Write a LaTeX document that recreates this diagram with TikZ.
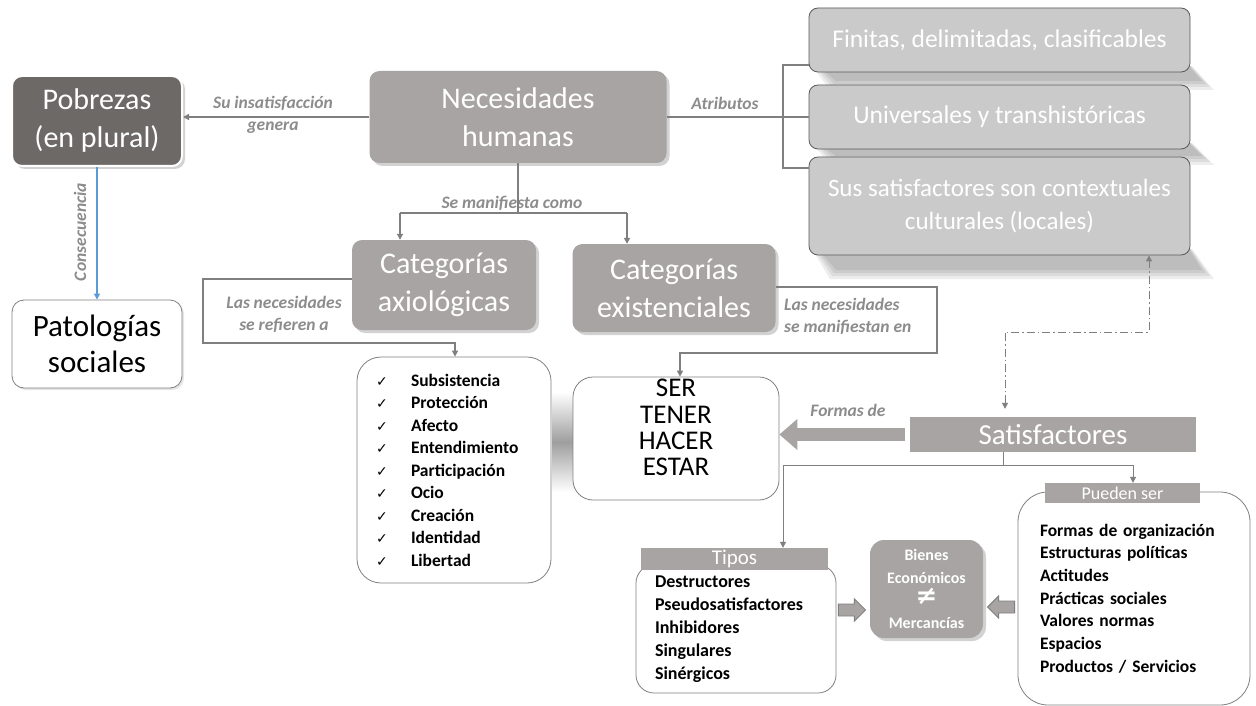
\documentclass[tikz,border=0pt]{standalone}
\usepackage{fontspec}
\setmainfont{Carlito}
\newfontfamily\dejavu{DejaVu Sans}
\usetikzlibrary{arrows.meta,shadows,calc}
\definecolor{ng}{HTML}{A7A4A3}
\definecolor{dg}{HTML}{6D6967}
\definecolor{lg}{HTML}{CBCACA}
\definecolor{lblc}{HTML}{8C8C8C}
\definecolor{ln}{HTML}{7F7F7F}
\definecolor{bd}{HTML}{595959}
\definecolor{bdw}{HTML}{808080}
\definecolor{bl}{HTML}{5B9BD5}
\newcommand\chkmk{\makebox[35pt][l]{{\dejavu\mdseries\fontsize{14}{14}\selectfont ✓}}}
\newcommand\bsp{\spaceskip=0.22em plus 0.1em minus 0.05em\relax}
\begin{document}
\begin{tikzpicture}[x=1pt,y=-1pt,
  gbox/.style={rectangle, rounded corners=10pt, fill=ng, text=white, align=center, inner sep=0pt,
    font=\fontsize{30}{38}\selectfont,
    drop shadow={opacity=0.35,shadow xshift=3pt,shadow yshift=-3pt}},
  abox/.style={rectangle, rounded corners=9pt, fill=lg, draw=bd, line width=0.8pt, text=white,
    align=center, inner sep=0pt, minimum width=381pt},
  wbox/.style={rectangle, rounded corners=20pt, fill=white, draw=bdw, line width=0.8pt, inner sep=0pt},
  tab/.style={rectangle, fill=ng, text=white, inner sep=0pt},
  lbl/.style={text=lblc, font=\fontsize{17.5}{22}\selectfont\bfseries\itshape\bsp, align=center, inner sep=0pt},
  con/.style={draw=ln, line width=1.4pt, -{Triangle[length=6pt,width=6pt]}},
  lin/.style={draw=ln, line width=1.4pt},
  barr/.style={fill=ng, draw=ln, line width=0.9pt, line join=miter},
  shband/.style={fill=black, opacity=0.07},
]
\fill[white] (0,0) rectangle (1256,706);
\useasboundingbox (0,0) rectangle (1256,706);

% soft shadow band between list and SER boxes
\shade[top color=white,bottom color=white,middle color=black!38] (552,392) rectangle (574,492);
% soft perspective shadows under the attribute boxes (layered for a blur effect)
\foreach \b/\h in {72/18, 149/16, 255/24}{
  \fill[shband] (812,\b-6) -- (1192,\b-6) -- (1214,\b+\h) -- (830,\b+\h) -- cycle;
  \fill[shband] (814,\b-6) -- (1191,\b-6) -- (1210,\b+\h-3) -- (832,\b+\h-3) -- cycle;
  \fill[shband] (816,\b-6) -- (1190,\b-6) -- (1206,\b+\h-6) -- (834,\b+\h-6) -- cycle;
  \fill[shband] (818,\b-6) -- (1189,\b-6) -- (1202,\b+\h-9) -- (836,\b+\h-9) -- cycle;
}

% main nodes
\node[gbox, fill=dg, draw=white, line width=2pt, minimum width=170pt, minimum height=90pt] (pob) at (97,121) {Pobrezas\\(en plural)};
\node[wbox, rounded corners=12pt, minimum width=170pt, minimum height=88pt, font=\fontsize{31}{36}\selectfont, align=center,
  drop shadow={opacity=0.2,shadow xshift=2pt,shadow yshift=-2pt}] (pat) at (97,344) {Patologías\\sociales};
\node[gbox, minimum width=297pt, minimum height=92pt] (nec) at (518,117) {Necesidades\\humanas};
\node[gbox, minimum width=184pt, minimum height=90pt] (axi) at (444,285) {Categorías\\axiológicas};
\node[gbox, minimum width=203pt, minimum height=88pt] (exi) at (674,288) {Categorías\\existenciales};

\node[abox, minimum height=64pt, font=\fontsize{25.5}{33}\selectfont] (fin) at (999.5,40) {Finitas, delimitadas, clasificables};
\node[abox, minimum height=64pt, font=\fontsize{25.5}{33}\selectfont] (uni) at (999.5,117) {Universales y transhistóricas};
\node[abox, minimum height=98pt, font=\fontsize{25}{33}\selectfont] (sus) at (999.5,206) {Sus satisfactores son contextuales\\culturales (locales)};

\node[wbox, rounded corners=24pt, minimum width=194pt, minimum height=226pt, text width=156pt, align=left,
  font=\fontsize{17.5}{22.5}\selectfont\bfseries] (lst) at (454,470)
  {\chkmk Subsistencia\\\chkmk Protección\\\chkmk Afecto\\\chkmk Entendimiento\\\chkmk Participación\\\chkmk Ocio\\\chkmk Creación\\\chkmk Identidad\\\chkmk Libertad};

\node[wbox, minimum width=206pt, minimum height=123pt,
  label={[font=\fontsize{27}{26.3}\selectfont, align=center, yshift=11pt, inner sep=0pt]center:SER\\TENER\\HACER\\ESTAR}] (ser) at (676,438.5) {};

\node[rectangle, fill=ng, text=white, minimum width=286pt, minimum height=35pt, inner sep=0pt,
  font=\fontsize{29}{29}\selectfont] (sat) at (1053,434.5) {Satisfactores};

\node[wbox, rounded corners=18pt, minimum width=200pt, minimum height=128pt, text width=162pt, align=left,
  font=\fontsize{18}{23}\selectfont\bfseries] (tip) at (736,629)
  {Destructores\\Pseudosatisfactores\\Inhibidores\\Singulares\\Sinérgicos};
\node[tab, minimum width=187pt, minimum height=22pt, font=\fontsize{21}{21}\selectfont] (tt) at (734.5,559) {Tipos};

\node[wbox, rounded corners=30pt, minimum width=232pt, minimum height=213pt, text width=188pt, align=left,
  font=\fontsize{17.5}{22.7}\selectfont\bfseries\bsp] (pue) at (1134,598.5)
  {Formas de organización\\Estructuras políticas\\Actitudes\\Prácticas sociales\\Valores normas\\Espacios\\Productos / Servicios};
\node[tab, minimum width=155pt, minimum height=20pt, font=\fontsize{18}{18}\selectfont] (pt) at (1122.5,493) {Pueden ser};

\node[gbox, rounded corners=14pt, minimum width=113pt, minimum height=98pt,
  font=\fontsize{16}{22.5}\selectfont\bfseries] (bie) at (926.5,589)
  {Bienes\\Económicos\\[-1pt]{\dejavu\fontsize{26}{20}\selectfont ≠}\\[1pt]Mercancías};

% labels
\node[lbl] (l1) at (273,115) {Su insatisfacción\\genera};
\node[lbl] (l2) at (725,103) {Atributos};
\node[lbl] (l3) at (512,203) {Se manifiesta como};
\node[lbl] (l4) at (284,314) {Las necesidades\\se refieren a};
\node[lbl, align=left, anchor=west] (l5) at (784,316) {Las necesidades\\se manifiestan en};
\node[lbl] (l6) at (848,410) {Formas de};
\node[lbl, rotate=90] (l7) at (80,232) {Consecuencia};

% connectors
\draw[con] (nec.west) -- (pob.east |- nec.west);
\draw[draw=bl, line width=1.2pt, -{Triangle[length=6pt,width=6pt]}] (pob.south) -- (pat.north);

\coordinate (bt) at (783,65);
\coordinate (bb) at (783,168);
\draw[lin] (nec.east) -- (uni.west);
\draw[lin] (fin.west |- bt) -- (bt) -- (bb) -- (sus.west |- bb);

\coordinate (sml) at (400,213);
\coordinate (smr) at (627,213);
\draw[lin] (nec.south) -- (nec.south |- sml);
\draw[lin] (sml) -- (smr);
\draw[con] (sml) -- (sml |- axi.north);
\draw[con] (smr) -- (smr |- exi.north);

\coordinate (a1) at (203,279);
\coordinate (a2) at (203,343);
\coordinate (a3) at (455,343);
\draw[con] (axi.west |- a1) -- (a1) -- (a2) -- (a3) -- (a3 |- lst.north);

\coordinate (e1) at (937,287);
\coordinate (e2) at (937,353);
\coordinate (e3) at (680,353);
\draw[con] (exi.east |- e1) -- (e1) -- (e2) -- (e3) -- (e3 |- ser.north);

\draw[draw=ng, line width=13pt, shorten <=5pt, -{Triangle[length=18pt,width=30pt]}] (sat.west) -- (sat.west -| ser.east);

\coordinate (d1) at (1005,332);
\coordinate (d2) at (1149,332);
\draw[draw=ln, line width=1pt, dash pattern=on 8pt off 3pt on 1.5pt off 3pt, shorten <=8pt,
  {Triangle[length=6pt,width=6pt]}-{Triangle[length=6pt,width=6pt]}] (sat.north -| d1) -- (d1) -- (d2) -- (d2 |- sus.south);

\coordinate (s0) at (1003,465);
\coordinate (s1) at (783,465);
\coordinate (s2) at (1133,465);
\draw[draw=ln, line width=1pt] (sat.south -| s0) -- (s0);
\draw[draw=ln, line width=1pt] (s1) -- (s2);
\draw[con, line width=1pt] (s1) -- (s1 |- tt.north);
\draw[con, line width=1pt] (s2) -- (s2 |- pt.north);

% block arrows into Bienes
\path (tip.east) ++(2,-19) coordinate (ba0);
\draw[barr] (ba0) ++(0,-6) -- ++(16,0) -- ++(0,-5) -- ++(11,11) -- ++(-11,11) -- ++(0,-5) -- ++(-16,0) -- cycle;
\path (pue.west) ++(-3,8.5) coordinate (bb0);
\draw[barr] (bb0) ++(0,-6) -- ++(-16,0) -- ++(0,-5) -- ++(-11,11) -- ++(11,11) -- ++(0,-5) -- ++(16,0) -- cycle;
\end{tikzpicture}
\end{document}
